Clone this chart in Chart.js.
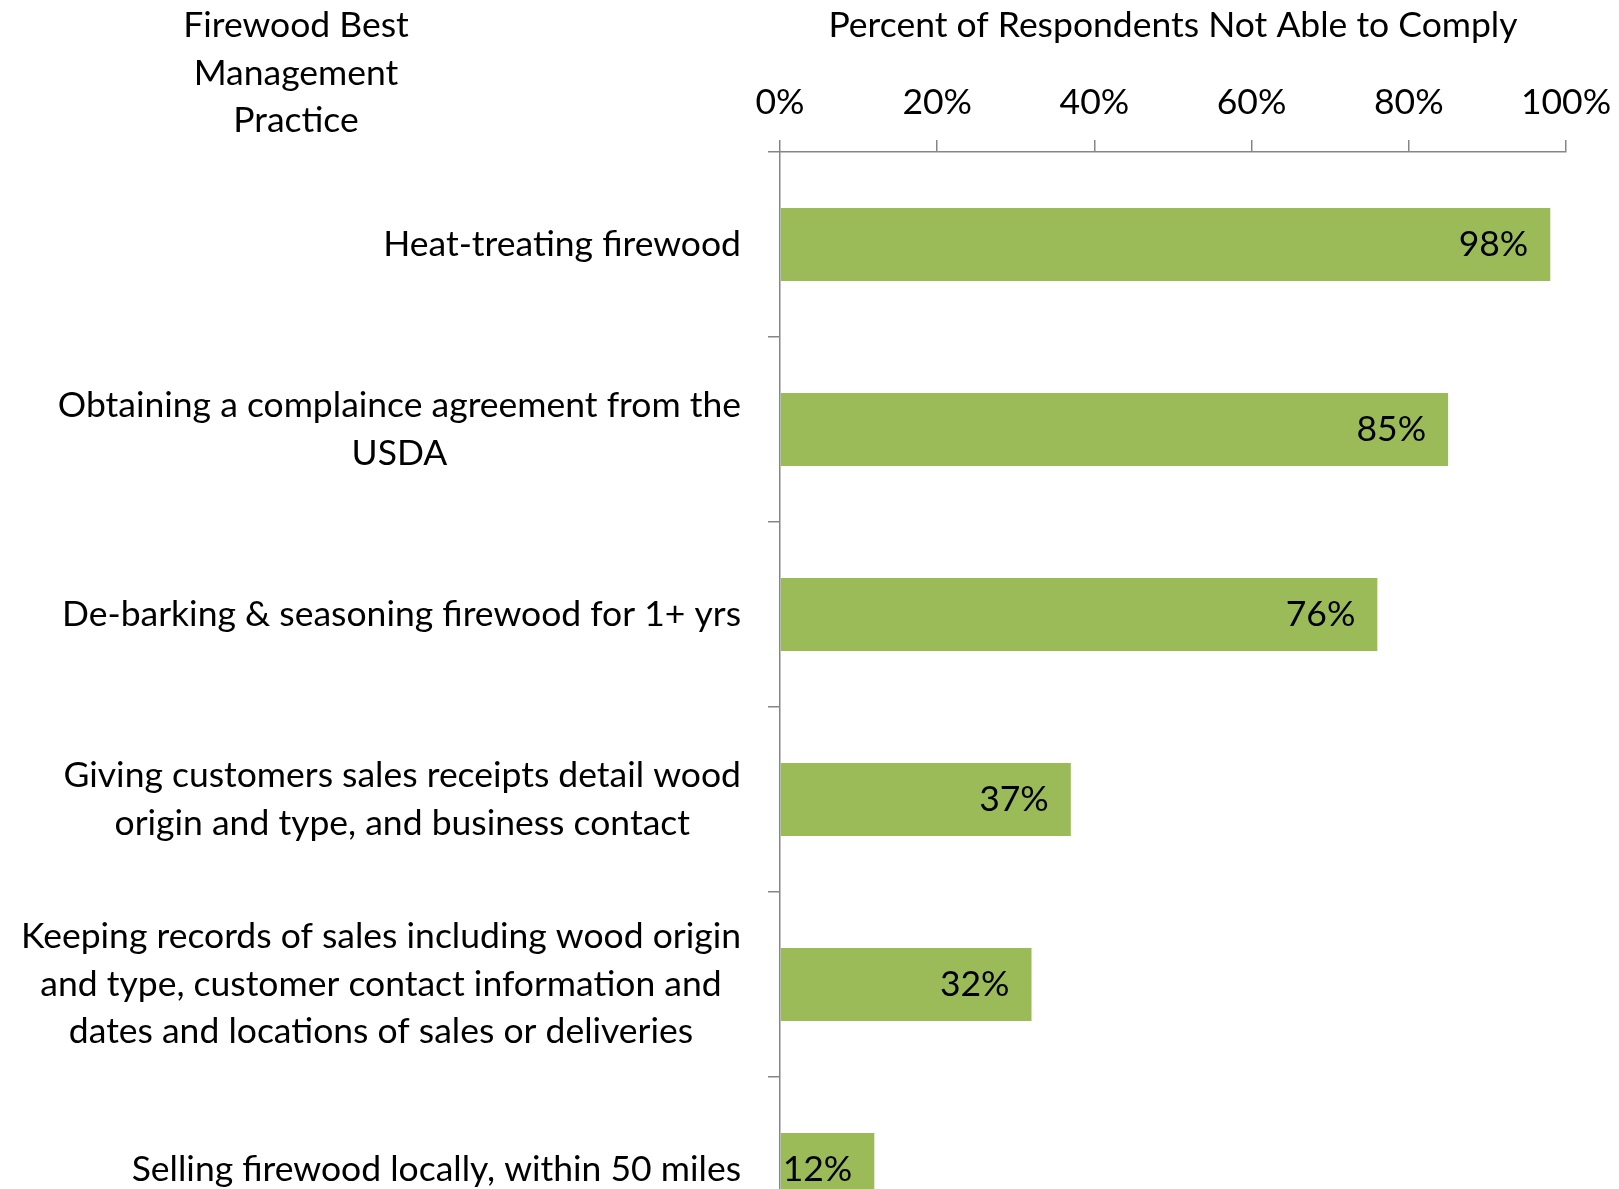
<!DOCTYPE html>
<html lang="en">
<head>
    <meta charset="UTF-8">
    <title>Firewood BMP compliance</title>
    <script src="https://cdn.jsdelivr.net/npm/chart.js"></script>
    <style>
        html, body { margin: 0; padding: 0; background: #fff; overflow: hidden; }
        #wrap { width: 1619px; height: 1300px; }
    </style>
</head>
<body>
<div id="wrap"><canvas id="grafico" width="1619" height="1300"></canvas></div>

<script>
    // dados
    const praticas = [
        ['Heat-treating firewood'],
        ['Obtaining a complaince agreement from the', 'USDA'],
        ['De-barking & seasoning firewood for 1+ yrs'],
        ['Giving customers sales receipts detail wood', 'origin and type, and business contact'],
        ['Keeping records of sales including wood origin', 'and type, customer contact information and', 'dates and locations of sales or deliveries'],
        ['Selling firewood locally, within 50 miles']
    ];
    const naoConsegue = [98, 85, 76, 37, 32, 12];
    const eixoMin = 0;
    const eixoMax = 100;
    const eixoPasso = 20;
    const tituloEsquerda = ['Firewood Best', 'Management', 'Practice'];
    const tituloTopo = 'Percent of Respondents Not Able to Comply';

    const fonte = 'Lato, "Open Sans", sans-serif';
    const tamFonte = 35.5;
    const corEixo = '#868686';

    // desenha os rotulos das categorias, o titulo da esquerda e os valores nas barras
    const textosExtras = {
        id: 'textosExtras',
        afterDraw(chart) {
            const ctx = chart.ctx;
            const yScale = chart.scales.y;
            const alturaLinha = 47.5;
            ctx.save();
            ctx.font = tamFonte + 'px ' + fonte;
            ctx.fillStyle = '#000';
            ctx.textBaseline = 'middle';
            ctx.textAlign = 'center';

            // rotulos: bloco alinhado a direita, linhas centralizadas
            const direita = yScale.right - 39;
            praticas.forEach((linhas, i) => {
                const yc = yScale.getPixelForTick(i);
                let larg = 0;
                linhas.forEach(l => { larg = Math.max(larg, ctx.measureText(l).width); });
                linhas.forEach((l, j) => {
                    ctx.fillText(l, direita - larg / 2, yc + (j - (linhas.length - 1) / 2) * alturaLinha);
                });
            });

            // titulo do eixo das categorias
            tituloEsquerda.forEach((l, j) => {
                ctx.fillText(l, 296, 26 + j * 47.5);
            });

            // valores dentro da ponta das barras
            ctx.textAlign = 'right';
            const meta = chart.getDatasetMeta(0);
            meta.data.forEach((barra, i) => {
                ctx.fillText(naoConsegue[i] + '%', barra.x - 22, barra.y);
            });
            ctx.restore();
        }
    };

    new Chart(document.getElementById('grafico'), {
        type: 'bar',
        data: {
            labels: praticas,
            datasets: [{
                label: 'Not able to comply',
                data: naoConsegue,
                backgroundColor: '#9bbb59',
                borderWidth: 0,
                categoryPercentage: 1,
                barPercentage: 0.395
            }]
        },
        options: {
            indexAxis: 'y',
            responsive: false,
            animation: false,
            layout: { padding: { left: 0, right: 53, top: 0, bottom: 38 } },
            plugins: {
                legend: { display: false },
                tooltip: { enabled: false }
            },
            scales: {
                x: {
                    position: 'top',
                    min: eixoMin,
                    max: eixoMax,
                    afterFit(scale) {
                        scale.height = 152;
                        scale.paddingLeft = 0;
                        scale.paddingRight = 0;
                    },
                    ticks: {
                        stepSize: eixoPasso,
                        callback: v => v + '%',
                        color: '#000',
                        font: { family: fonte, size: tamFonte },
                        padding: 16,
                        maxRotation: 0
                    },
                    grid: {
                        drawOnChartArea: false,
                        tickLength: 12,
                        color: corEixo,
                        lineWidth: 1.5
                    },
                    border: { color: corEixo, width: 1.5 },
                    title: {
                        display: true,
                        text: tituloTopo,
                        color: '#000',
                        font: { family: fonte, size: tamFonte },
                        padding: { top: 4, bottom: 0 }
                    }
                },
                y: {
                    afterFit(scale) { scale.width = 780; },
                    ticks: { display: false },
                    grid: {
                        offset: true,
                        drawOnChartArea: false,
                        tickLength: 12,
                        color: corEixo,
                        lineWidth: 1.5
                    },
                    border: { color: corEixo, width: 1.5 }
                }
            }
        },
        plugins: [textosExtras]
    });
</script>
</body>
</html>
